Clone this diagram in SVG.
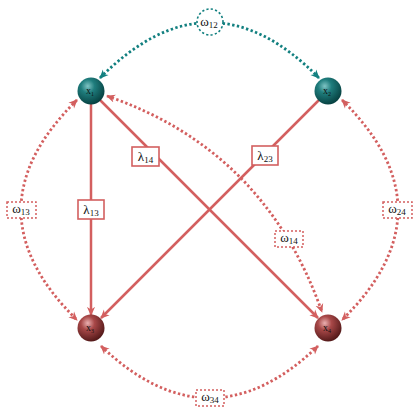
<svg xmlns="http://www.w3.org/2000/svg" width="420" height="420" viewBox="0 0 420 420">
<defs>
  <radialGradient id="gTeal" cx="0.38" cy="0.32" r="0.72">
    <stop offset="0" stop-color="#7fc4c4"/>
    <stop offset="0.35" stop-color="#1f7d7d"/>
    <stop offset="1" stop-color="#053d3d"/>
  </radialGradient>
  <radialGradient id="gRed" cx="0.38" cy="0.32" r="0.72">
    <stop offset="0" stop-color="#eab0b0"/>
    <stop offset="0.35" stop-color="#a84848"/>
    <stop offset="1" stop-color="#4e1616"/>
  </radialGradient>
  <marker id="aRed" viewBox="0 0 10 10" refX="9" refY="5" markerWidth="9" markerHeight="9" markerUnits="userSpaceOnUse" orient="auto-start-reverse">
    <path d="M0,0.5 L10,5 L0,9.5 L3,5 z" fill="#d35f5f"/>
  </marker>
  <marker id="aTeal" viewBox="0 0 10 10" refX="9" refY="5" markerWidth="9" markerHeight="9" markerUnits="userSpaceOnUse" orient="auto-start-reverse">
    <path d="M0,0.5 L10,5 L0,9.5 L3,5 z" fill="#138080"/>
  </marker>
</defs>
<style>
  .solid { fill: none; stroke: #d35f5f; stroke-width: 2.5; marker-end: url(#aRed); }
  .dotr { fill: none; stroke: #d35f5f; stroke-width: 2.8; stroke-dasharray: 2.4 2.4; marker-start: url(#aRed); marker-end: url(#aRed); }
  .dott { fill: none; stroke: #138080; stroke-width: 2.8; stroke-dasharray: 2.4 2.4; marker-start: url(#aTeal); marker-end: url(#aTeal); }
  .lbox { fill: #ffffff; stroke: #d35f5f; stroke-width: 1.6; }
  .wbox { fill: #ffffff; stroke: #d35f5f; stroke-width: 1.5; stroke-dasharray: 2 2; }
  .wcirc { fill: #ffffff; stroke: #138080; stroke-width: 1.6; stroke-dasharray: 2.2 2.2; }
  .lt { font-family: "Liberation Serif", "DejaVu Serif", serif; font-size: 13px; fill: #111; text-anchor: middle; }
  .nt { font-family: "Liberation Serif", "DejaVu Serif", serif; font-size: 10px; fill: #111; text-anchor: middle; }
</style>
<g id="connectors">
  <path class="solid" d="M91,104 L91,315"/>
  <path class="solid" d="M100,100 L318,318"/>
  <path class="solid" d="M319,100 L101,318"/>
  <path class="dott" d="M100,78 Q210,-33 319,78"/>
  <path class="dotr" d="M77,100 Q-35,210 77,320"/>
  <path class="dotr" d="M342,100 Q454,210 342,320"/>
  <path class="dotr" d="M101,346 Q210,450 318,346"/>
  <path class="dotr" d="M107,96 Q265,150 322,312"/>
</g>
<g id="label-w12">
  <circle class="wcirc" cx="210" cy="22" r="13"/>
  <text class="lt" x="209" y="26">ω<tspan font-size="9" dy="2">12</tspan></text>
</g>
<g id="label-w13">
  <rect class="wbox" x="7" y="202" width="29" height="16"/>
  <text class="lt" x="21" y="213">ω<tspan font-size="9" dy="2">13</tspan></text>
</g>
<g id="label-w24">
  <rect class="wbox" x="383" y="202" width="29" height="16"/>
  <text class="lt" x="397" y="213">ω<tspan font-size="9" dy="2">24</tspan></text>
</g>
<g id="label-w34">
  <rect class="wbox" x="196" y="390" width="28" height="16"/>
  <text class="lt" x="210" y="401">ω<tspan font-size="9" dy="2">34</tspan></text>
</g>
<g id="label-w14">
  <rect class="wbox" x="275" y="231" width="28" height="16"/>
  <text class="lt" x="289" y="242">ω<tspan font-size="9" dy="2">14</tspan></text>
</g>
<g id="label-l13">
  <rect class="lbox" x="78" y="200" width="26" height="19"/>
  <text class="lt" x="91" y="214">λ<tspan font-size="9" dy="2">13</tspan></text>
</g>
<g id="label-l14">
  <rect class="lbox" x="132" y="147" width="27" height="19"/>
  <text class="lt" x="145.5" y="161">λ<tspan font-size="9" dy="2">14</tspan></text>
</g>
<g id="label-l23">
  <rect class="lbox" x="252" y="146" width="26" height="19"/>
  <text class="lt" x="265" y="160">λ<tspan font-size="9" dy="2">23</tspan></text>
</g>
<g id="node-x1">
  <circle cx="91" cy="91" r="13.5" fill="url(#gTeal)"/>
  <text class="nt" x="90" y="94">x<tspan font-size="6" dy="1.5">1</tspan></text>
</g>
<g id="node-x2">
  <circle cx="328" cy="91" r="13.5" fill="url(#gTeal)"/>
  <text class="nt" x="327" y="94">x<tspan font-size="6" dy="1.5">2</tspan></text>
</g>
<g id="node-x3">
  <circle cx="91" cy="328" r="13.5" fill="url(#gRed)"/>
  <text class="nt" x="90" y="331">x<tspan font-size="6" dy="1.5">3</tspan></text>
</g>
<g id="node-x4">
  <circle cx="328" cy="328" r="13.5" fill="url(#gRed)"/>
  <text class="nt" x="327" y="331">x<tspan font-size="6" dy="1.5">4</tspan></text>
</g>
</svg>
